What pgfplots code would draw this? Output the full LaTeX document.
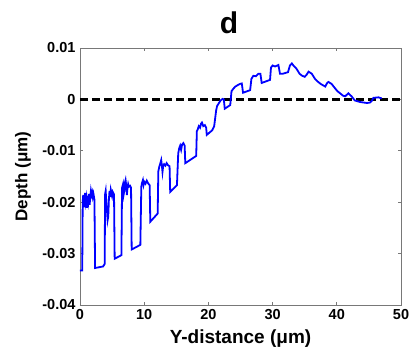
\documentclass[border=0pt]{standalone}
\usepackage{fontspec}
\setmainfont{Liberation Sans}
\usepackage{pgfplots}
\pgfplotsset{compat=1.18}
\definecolor{framegray}{RGB}{120,120,120}
\begin{document}
\begin{tikzpicture}[x=1pt,y=1pt]
\useasboundingbox (-80,-55) rectangle (335,305);
\begin{axis}[
  at={(0,0)}, anchor=south west,
  scale only axis, width=321pt, height=257pt,
  xmin=0, xmax=50, ymin=-0.04, ymax=0.01,
  scaled y ticks=false, scaled x ticks=false,
  xtick={0,10,20,30,40,50},
  ytick={-0.04,-0.03,-0.02,-0.01,0,0.01},
  yticklabels={-0.04,-0.03,-0.02,-0.01,0,0.01},
  xticklabels={0,10,20,30,40,50},
  tick align=inside, tick pos=both,
  major tick length=3pt,
  axis line style={framegray, line width=0.9pt},
  every tick/.style={framegray, line width=0.8pt},
  ticklabel style={font=\bfseries\fontsize{14.5}{16}\selectfont},
  xticklabel style={yshift=-1pt},
  yticklabel style={xshift=-1pt},
  xlabel={Y-distance (μm)},
  ylabel={Depth (μm)},
  xlabel style={font=\bfseries\fontsize{19}{22}\selectfont, at={(axis description cs:0.5,-0.148)}, anchor=base},
  ylabel style={font=\bfseries\fontsize{17}{20}\selectfont, at={(axis description cs:-0.178,0.5)}, anchor=center},
  clip=true,
]
\addplot[black, line width=2.4pt, dash pattern=on 8pt off 4pt] coordinates {(0,0) (50,0)};
\addplot[blue, line width=1.8pt] coordinates {
(0,-0.0333) (0.35,-0.0333) (0.42,-0.0200) (0.5,-0.0186) (0.58,-0.0205) (0.65,-0.0190) (0.72,-0.0210) (0.8,-0.0182) (0.9,-0.0200) (1.0,-0.0192) (1.1,-0.0211) (1.2,-0.0188) (1.3,-0.0198) (1.4,-0.0184) (1.5,-0.0205) (1.6,-0.0190) (1.7,-0.0178) (1.8,-0.0186) (1.9,-0.0181) (2.0,-0.0190) (2.1,-0.0184) (2.25,-0.0195)
(2.35,-0.0328) (3.6,-0.0325) (3.85,-0.0320)
(3.9,-0.0185) (4.0,-0.0178) (4.1,-0.0200) (4.2,-0.0215) (4.3,-0.0235) (4.4,-0.0228) (4.5,-0.0195) (4.6,-0.0178) (4.7,-0.0190) (4.8,-0.0176) (4.9,-0.0182) (5.0,-0.0188) (5.1,-0.0180) (5.3,-0.0185)
(5.4,-0.0310) (6.45,-0.0303)
(6.55,-0.0172) (6.7,-0.0165) (6.8,-0.0185) (6.9,-0.0178) (7.0,-0.0162) (7.1,-0.0157) (7.2,-0.0168) (7.3,-0.0186) (7.4,-0.0172) (7.5,-0.0165) (7.6,-0.0170) (7.8,-0.0168) (7.95,-0.0172)
(8.05,-0.0292) (9.4,-0.0283)
(9.55,-0.0170) (9.65,-0.0163) (9.8,-0.0157) (9.9,-0.0166) (10.0,-0.0160) (10.2,-0.0164) (10.4,-0.0158) (10.6,-0.0163) (10.85,-0.0167)
(10.95,-0.0238) (12.1,-0.0222)
(12.2,-0.0140) (12.35,-0.0131) (12.5,-0.0125) (12.65,-0.0118) (12.75,-0.0128) (12.85,-0.0141) (12.95,-0.0130) (13.1,-0.0126) (13.3,-0.0129) (13.5,-0.0124) (13.7,-0.0128) (13.95,-0.0130)
(14.05,-0.0180) (15.1,-0.0167)
(15.3,-0.0105) (15.45,-0.0095) (15.6,-0.0090) (15.75,-0.0098) (15.9,-0.0088) (16.1,-0.0085) (16.3,-0.0090)
(16.4,-0.0124) (18.1,-0.0110)
(18.2,-0.0062) (18.35,-0.0058) (18.5,-0.0052) (18.7,-0.0055) (18.85,-0.0047) (19.0,-0.0045) (19.2,-0.0052) (19.45,-0.0050) (19.65,-0.0055)
(19.75,-0.0069) (20.6,-0.0060) (20.9,-0.0052)
(21.2,-0.0022) (21.35,-0.0013) (21.6,-0.0008) (21.9,-0.0002) (22.2,0.0001) (22.4,0.0000)
(22.55,-0.0018) (23.4,-0.0011)
(23.6,0.0016) (23.9,0.0021) (24.2,0.0025) (24.6,0.0028) (24.9,0.0030) (25.2,0.0031)
(25.4,0.0013) (26.5,0.0018)
(26.7,0.0040) (27.0,0.0046) (27.4,0.0045) (27.8,0.0050) (28.1,0.0050)
(28.3,0.0032) (29.6,0.0038)
(29.75,0.0062) (30.0,0.0066) (30.4,0.0064) (30.9,0.0067)
(31.15,0.0050) (31.6,0.0050) (32.4,0.0053)
(32.7,0.0066) (33.0,0.0070) (33.3,0.0065) (33.7,0.0060) (34.2,0.0050) (34.6,0.0046) (35.0,0.0044) (35.3,0.0048) (35.6,0.0054) (36.1,0.0050) (36.6,0.0040) (37.0,0.0035) (37.5,0.0030) (38.2,0.0025) (38.5,0.0032) (38.7,0.0034) (39.2,0.0030) (39.7,0.0022) (40.1,0.0016) (40.5,0.0012) (41.0,0.0007) (41.3,0.0006) (41.8,0.0012) (42.3,0.0006) (42.8,-0.0002) (43.6,-0.0005) (44.7,-0.0007) (45.2,-0.0006) (45.5,-0.0002) (45.7,0.0003) (46.5,0.0004) (47.0,0.0002)
};
\end{axis}
\node[anchor=base, font=\bfseries\fontsize{30}{34}\selectfont, inner sep=0pt] at (149,272) {d};
\end{tikzpicture}
\end{document}
